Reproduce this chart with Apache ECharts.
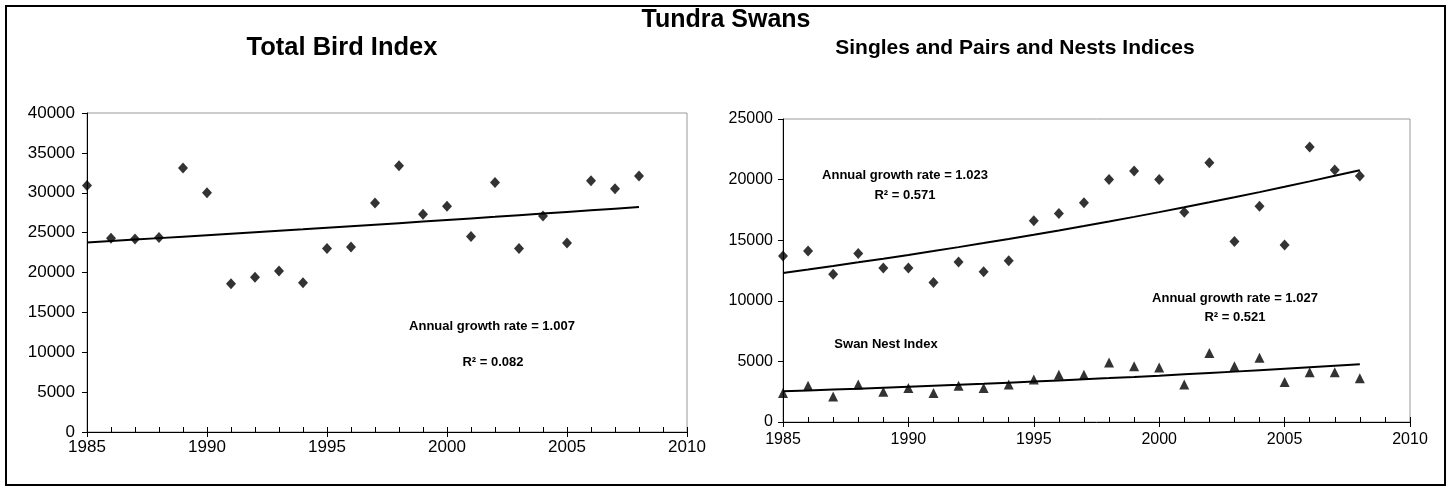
<!DOCTYPE html>
<html>
<head>
<meta charset="utf-8">
<script src="https://cdn.jsdelivr.net/npm/echarts@6/dist/echarts.min.js"></script>
<style>
html,body{margin:0;padding:0;background:#fff;}
#chart{width:1452px;height:487px;}
</style>
</head>
<body>
<div id="chart"></div>
<script>
// ---- data ----
var years = [1985,1986,1987,1988,1989,1990,1991,1992,1993,1994,1995,1996,1997,1998,1999,2000,2001,2002,2003,2004,2005,2006,2007,2008];
var totalBird = [30900,24300,24200,24400,33100,30000,18600,19400,20200,18700,23000,23200,28700,33400,27300,28300,24500,31300,23000,27100,23700,31500,30500,32100];
var singlesPairs = [13700,14100,12200,13900,12700,12700,11500,13200,12400,13300,16600,17200,18100,20000,20700,20000,17300,21400,14900,17800,14600,22700,20800,20300];
var nests = [2400,3000,2100,3100,2500,2800,2400,3000,2800,3100,3500,3900,3900,4900,4600,4500,3100,5700,4600,5300,3300,4100,4100,3600];
var leftYTicks = [0, 40000, 5000];
var rightYTicks = [0, 25000, 5000];
var xTicks = [1985, 2010, 5];

// exponential (log-linear) least-squares trend, as the spreadsheet's trendline
function expTrend(xs, ys) {
  var n = xs.length, sx = 0, sy = 0, sxx = 0, sxy = 0;
  for (var i = 0; i < n; i++) {
    var ly = Math.log(ys[i]);
    sx += xs[i]; sy += ly; sxx += xs[i] * xs[i]; sxy += xs[i] * ly;
  }
  var b = (n * sxy - sx * sy) / (n * sxx - sx * sx);
  var a = (sy - b * sx) / n;
  return xs.map(function (x) { return [x, Math.exp(a + b * x)]; });
}
function pairs(xs, ys) { return xs.map(function (x, i) { return [x, ys[i]]; }); }

var FONT = '"Liberation Sans", Arial, sans-serif';

function xAxes(grid, fs, margin, family) {
  return [
    { type: 'value', gridIndex: grid, position: 'bottom', min: xTicks[0], max: xTicks[1], interval: xTicks[2],
      axisLine: { lineStyle: { color: '#000', width: 1 } },
      axisTick: { show: true, length: 5, inside: false, lineStyle: { color: '#000' } },
      axisLabel: { color: '#000', fontSize: fs, fontFamily: family, margin: margin, formatter: function (v) { return String(v); } },
      splitLine: { show: false } },
    { type: 'value', gridIndex: grid, position: 'bottom', min: xTicks[0], max: xTicks[1], interval: 1,
      axisLine: { show: false },
      axisTick: { show: true, length: 5, inside: true, lineStyle: { color: '#000' } },
      axisLabel: { show: false }, splitLine: { show: false } }
  ];
}
function yAxis(grid, ticks, fs, margin, family) {
  return { type: 'value', gridIndex: grid, min: ticks[0], max: ticks[1], interval: ticks[2],
    axisLine: { show: true, lineStyle: { color: '#000', width: 1 } },
    axisTick: { show: true, length: 5, inside: false, lineStyle: { color: '#000' } },
    axisLabel: { color: '#000', fontSize: fs, fontFamily: family, margin: margin, formatter: function (v) { return String(v); } },
    splitLine: { show: false } };
}

var chart = echarts.init(document.getElementById('chart'), null, { renderer: 'canvas' });
var ann = { fontSize: 13, fontWeight: 'bold', fontFamily: FONT, fill: '#000', textAlign: 'center', textVerticalAlign: 'middle' };
function txt(x, y, s, extra) {
  var st = Object.assign({}, ann, extra || {}, { text: s, x: x, y: y });
  return { type: 'text', style: st, z: 100 };
}

chart.setOption({
  animation: false,
  backgroundColor: '#fff',
  grid: [
    { left: 87, top: 113, width: 600, height: 319, show: true, borderColor: '#999', borderWidth: 1, backgroundColor: 'transparent' },
    { left: 783, top: 119, width: 627, height: 303, show: true, borderColor: '#999', borderWidth: 1, backgroundColor: 'transparent' }
  ],
  xAxis: xAxes(0, 17, 7, FONT).concat(xAxes(1, 16, 10, FONT)),
  yAxis: [yAxis(0, leftYTicks, 17, 12, FONT), yAxis(1, rightYTicks, 16, 10, FONT)],
  series: [
    { type: 'scatter', xAxisIndex: 0, yAxisIndex: 0, data: pairs(years, totalBird), symbol: 'diamond', symbolSize: [10, 11], itemStyle: { color: '#000' } },
    { type: 'line', xAxisIndex: 0, yAxisIndex: 0, data: expTrend(years, totalBird), showSymbol: false, symbol: 'none', lineStyle: { color: '#000', width: 2 } },
    { type: 'scatter', xAxisIndex: 2, yAxisIndex: 1, data: pairs(years, singlesPairs), symbol: 'diamond', symbolSize: [10, 11], itemStyle: { color: '#000' } },
    { type: 'line', xAxisIndex: 2, yAxisIndex: 1, data: expTrend(years, singlesPairs), showSymbol: false, symbol: 'none', lineStyle: { color: '#000', width: 2 } },
    { type: 'scatter', xAxisIndex: 2, yAxisIndex: 1, data: pairs(years, nests), symbol: 'triangle', symbolSize: [10, 10], itemStyle: { color: '#000' } },
    { type: 'line', xAxisIndex: 2, yAxisIndex: 1, data: expTrend(years, nests), showSymbol: false, symbol: 'none', lineStyle: { color: '#000', width: 2 } }
  ],
  graphic: [
    { type: 'rect', shape: { x: 6, y: 6, width: 1439, height: 479 }, style: { fill: 'none', stroke: '#000', lineWidth: 2 }, z: 100 },
    txt(726, 20, 'Tundra Swans', { fontSize: 25 }),
    txt(342, 48, 'Total Bird Index', { fontSize: 25.5 }),
    txt(1015, 48, 'Singles and Pairs and Nests Indices', { fontSize: 21 }),
    txt(492, 326, 'Annual growth rate = 1.007'),
    txt(493, 362, 'R\u00B2 = 0.082'),
    txt(905, 175, 'Annual growth rate = 1.023'),
    txt(905, 195, 'R\u00B2 = 0.571'),
    txt(886, 344, 'Swan Nest Index'),
    txt(1235, 298, 'Annual growth rate = 1.027'),
    txt(1235, 317, 'R\u00B2 = 0.521')
  ]
});
</script>
</body>
</html>
